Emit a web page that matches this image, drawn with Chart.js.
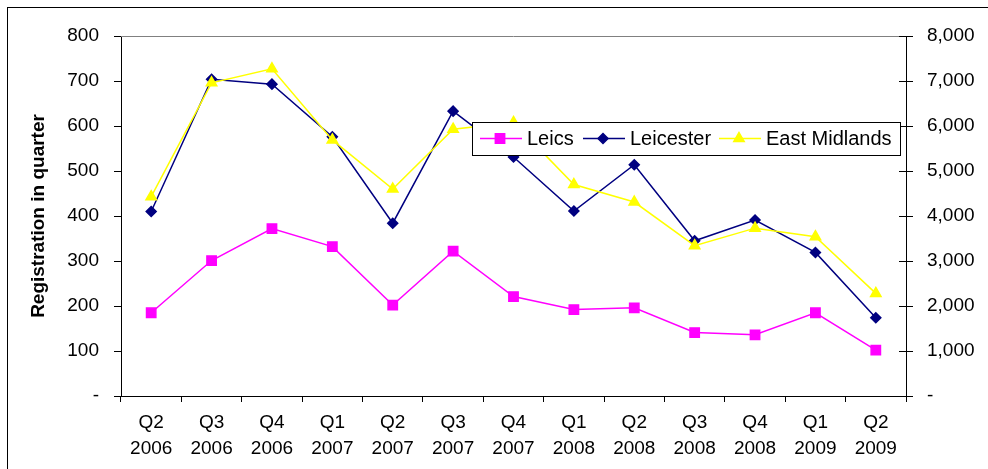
<!DOCTYPE html>
<html>
<head>
<meta charset="utf-8">
<script src="https://cdn.jsdelivr.net/npm/chart.js@4.4.0/dist/chart.umd.min.js"></script>
<style>
	body { margin: 0; background: #fff; }
</style>
</head>
<body>
<canvas id="graf" width="988" height="469"></canvas>
<script>
let kvartali = [
	["Q2", "2006"], ["Q3", "2006"], ["Q4", "2006"],
	["Q1", "2007"], ["Q2", "2007"], ["Q3", "2007"], ["Q4", "2007"],
	["Q1", "2008"], ["Q2", "2008"], ["Q3", "2008"], ["Q4", "2008"],
	["Q1", "2009"], ["Q2", "2009"]
];
let leics = [185, 301, 372, 332, 202, 322, 221, 192, 196, 141, 136, 185, 102];
let leicester = [410, 704, 693, 576, 384, 633, 531, 411, 514, 345, 391, 319, 174];
let eastMidlands = [4430, 6960, 7270, 5690, 4600, 5930, 6080, 4700, 4310, 3340, 3730, 3540, 2280];

let levaOs = { min: 0, max: 800, korak: 100 };
let desnaOs = { min: 0, max: 8000, korak: 1000 };
let naslovOsi = "Registration in quarter";

const pisava = "'Liberation Sans', Arial, sans-serif";

function oznaka(v) {
	return v === 0 ? "-" : v.toLocaleString("en-US");
}

// okvir, siva zgornja crta, notranji deli kljukic na desni osi, legenda
const okrasek = {
	id: "okrasek",
	beforeDraw(chart) {
		let c = chart.ctx;
		c.save();
		c.strokeStyle = "#000";
		c.lineWidth = 1;
		c.strokeRect(7.5, 7.5, 1200, 800);
		c.restore();
	},
	afterDatasetsDraw(chart) {
		let c = chart.ctx;
		let a = chart.chartArea;
		c.save();
		c.strokeStyle = "#808080";
		c.lineWidth = 1;
		c.beginPath();
		c.moveTo(a.left, Math.round(a.top) + 0.5);
		c.lineTo(a.right, Math.round(a.top) + 0.5);
		c.stroke();

		let y1 = chart.scales.y1;
		c.strokeStyle = "#000";
		c.beginPath();
		for (let t of y1.ticks) {
			let py = Math.round(y1.getPixelForValue(t.value)) + 0.5;
			c.moveTo(a.right - 7, py);
			c.lineTo(a.right, py);
		}
		c.stroke();

		// legenda
		c.fillStyle = "#fff";
		c.fillRect(472, 122, 429, 33);
		c.strokeRect(472.5, 122.5, 428, 33);
		let vnosi = [
			{ ds: 0, x: 480 },
			{ ds: 1, x: 583 },
			{ ds: 2, x: 719 }
		];
		let yc = 138.5;
		c.font = "20px " + pisava;
		c.textBaseline = "middle";
		for (let v of vnosi) {
			let d = chart.data.datasets[v.ds];
			c.strokeStyle = d.borderColor;
			c.lineWidth = 1.5;
			c.beginPath();
			c.moveTo(v.x, yc);
			c.lineTo(v.x + 42, yc);
			c.stroke();
			c.fillStyle = d.pointBackgroundColor;
			c.strokeStyle = d.pointBorderColor;
			Chart.helpers.drawPoint(c, { pointStyle: d.pointStyle, radius: d.pointRadius, rotation: 0, borderWidth: 1 }, v.x + 20, yc);
			c.fillStyle = "#000";
			c.fillText(d.label, v.x + 47, yc + 1);
		}
		c.restore();
	}
};

let graf = new Chart("graf", {
	type: "line",
	data: {
		labels: kvartali,
		datasets: [{
			label: "Leics",
			data: leics,
			yAxisID: "y",
			borderColor: "#ff00ff",
			pointBackgroundColor: "#ff00ff",
			pointBorderColor: "#ff00ff",
			pointStyle: "rect",
			pointRadius: 6.6,
			borderWidth: 1.5,
			order: 2
		},
		{
			label: "Leicester",
			data: leicester,
			yAxisID: "y",
			borderColor: "#000080",
			pointBackgroundColor: "#000080",
			pointBorderColor: "#000080",
			pointStyle: "rectRot",
			pointRadius: 5,
			borderWidth: 1.5,
			order: 1
		},
		{
			label: "East Midlands",
			data: eastMidlands,
			yAxisID: "y1",
			borderColor: "#ffff00",
			pointBackgroundColor: "#ffff00",
			pointBorderColor: "#ffff00",
			pointStyle: "triangle",
			pointRadius: 6,
			borderWidth: 1.5,
			order: 0
		}]
	},
	options: {
		responsive: false,
		animation: false,
		events: [],
		layout: { padding: { left: 0, right: 0, top: 36, bottom: 0 } },
		plugins: {
			legend: { display: false },
			tooltip: { enabled: false }
		},
		scales: {
			x: {
				offset: true,
				grid: { offset: true, drawOnChartArea: false, drawTicks: true, tickLength: 6, color: "#000" },
				border: { display: true, color: "#000", width: 1 },
				ticks: {
					color: "#000",
					font: { family: pisava, size: 19, lineHeight: 1.37 },
					padding: 8,
					maxRotation: 0,
					autoSkip: false
				},
				afterFit(s) { s.height = 73; }
			},
			y: {
				position: "left",
				min: levaOs.min,
				max: levaOs.max,
				grid: { drawOnChartArea: false, drawTicks: true, tickLength: 7, color: "#000" },
				border: { display: true, color: "#000", width: 1 },
				ticks: {
					stepSize: levaOs.korak,
					color: "#000",
					font: { family: pisava, size: 19 },
					padding: 15,
					callback: oznaka
				},
				title: {
					display: true,
					text: naslovOsi,
					color: "#000",
					font: { family: pisava, size: 19, weight: "bold" },
					padding: { top: 27, bottom: 0 }
				},
				afterFit(s) { s.width = 121; }
			},
			y1: {
				position: "right",
				min: desnaOs.min,
				max: desnaOs.max,
				grid: { drawOnChartArea: false, drawTicks: true, tickLength: 7, color: "#000" },
				border: { display: true, color: "#000", width: 1 },
				ticks: {
					stepSize: desnaOs.korak,
					color: "#000",
					font: { family: pisava, size: 19 },
					padding: 14,
					callback: oznaka
				},
				afterFit(s) { s.width = 82; }
			}
		}
	},
	plugins: [okrasek]
});
</script>
</body>
</html>
